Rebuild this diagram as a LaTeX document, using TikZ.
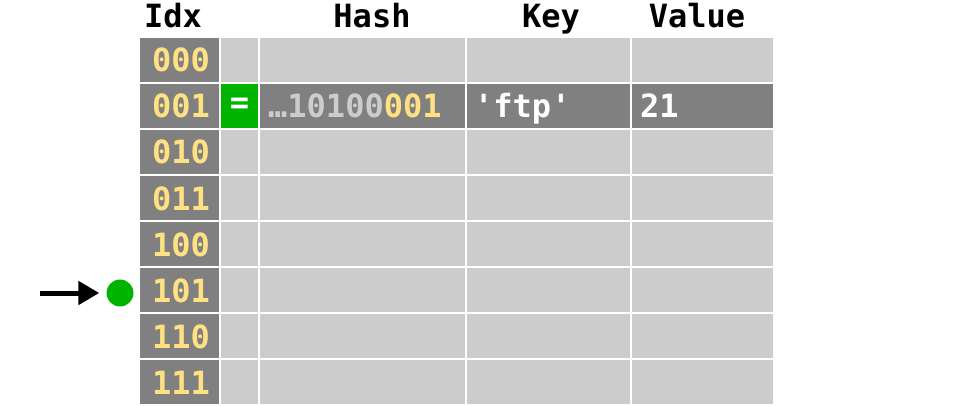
\documentclass[tikz,border=0pt]{standalone}
\usepackage{fontspec}
\newfontfamily\monofnt{DejaVu Sans Mono}
\usetikzlibrary{arrows.meta}
\definecolor{darkcell}{HTML}{808080}
\definecolor{lightcell}{HTML}{CCCCCC}
\definecolor{idxyellow}{HTML}{FFE184}
\definecolor{hitgreen}{HTML}{00B400}
\definecolor{hashgray}{HTML}{CCCCCC}
\begin{document}
\begin{tikzpicture}[x=1pt,y=-1pt,
  cell/.style={rectangle,inner sep=0pt,outer sep=0pt,anchor=north west,draw=none},
  txt/.style={font=\monofnt\bfseries\fontsize{32}{32}\selectfont,inner sep=0pt},
  hdr/.style={txt,text=black,anchor=base},
  idxtxt/.style={txt,text=idxyellow,anchor=base},
  celltxt/.style={txt,text=white,anchor=base west}]
\useasboundingbox (0,0) rectangle (960,406);
% headers
\node[hdr] (hIdx) at (173,28) {Idx};
\node[hdr] (hHash) at (372,28) {Hash};
\node[hdr] (hKey) at (551,28) {Key};
\node[hdr] (hVal) at (697,28) {Value};
% rows
\foreach \r/\lab in {0/000,1/001,2/010,3/011,4/100,5/101,6/110,7/111}{
  \pgfmathsetmacro{\top}{38+46*\r}
  \ifnum\r=1
    \def\fillc{darkcell}\def\eqc{hitgreen}
  \else
    \def\fillc{lightcell}\def\eqc{lightcell}
  \fi
  \node[cell,fill=darkcell,minimum width=79pt,minimum height=44pt] (idx\r) at (140,\top) {};
  \node[cell,fill=\eqc,minimum width=37pt,minimum height=44pt] (eq\r) at (221,\top) {};
  \node[cell,fill=\fillc,minimum width=205pt,minimum height=44pt] (hash\r) at (260,\top) {};
  \node[cell,fill=\fillc,minimum width=163pt,minimum height=44pt] (key\r) at (467,\top) {};
  \node[cell,fill=\fillc,minimum width=141pt,minimum height=44pt] (val\r) at (632,\top) {};
  \node[idxtxt] (idxlab\r) at (181,\top+34) {\lab};
}
% matching row content
\node[txt,text=white,anchor=center] (eqsign) at (eq1.center) {=};
\node[celltxt,text=hashgray] (hashtxt) at (268,118) {…10100\textcolor{idxyellow}{001}};
\node[celltxt] (keytxt) at (474,118) {'ftp'};
\node[celltxt] (valtxt) at (640,118) {21};
% probe pointer
\node[circle,fill=hitgreen,minimum size=27pt,inner sep=0pt] (probe) at (120,293) {};
\coordinate (arrstart) at (40,293);
\draw[line width=5pt,-{Triangle[length=21pt,width=23pt]}] (arrstart) -- ([xshift=-7pt]probe.west);
\end{tikzpicture}
\end{document}
